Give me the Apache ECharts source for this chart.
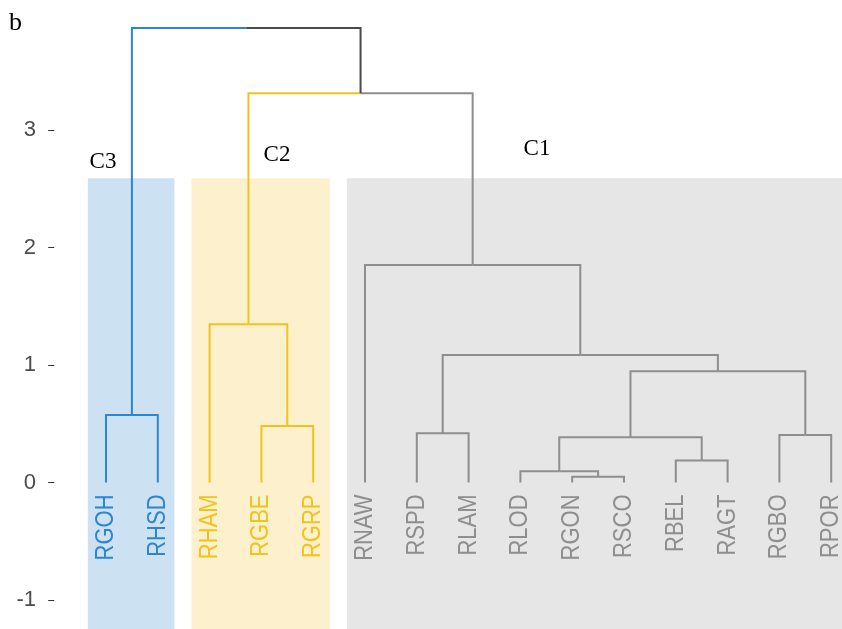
<!DOCTYPE html>
<html><head><meta charset="utf-8">
<script src="https://cdn.jsdelivr.net/npm/echarts@6/dist/echarts.min.js"></script>
<style>html,body{margin:0;padding:0;background:#fff}#c{width:842px;height:629px}</style>
</head><body><div id="c"></div>
<script>
// ---- data ----
const leaves = ['RGOH','RHSD','RHAM','RGBE','RGRP','RNAW','RSPD','RLAM','RLOD','RGON','RSCO','RBEL','RAGT','RGBO','RPOR'];
const leafCluster = ['C3','C3','C2','C2','C2','C1','C1','C1','C1','C1','C1','C1','C1','C1','C1'];
// hclust-style merges: negative = leaf (1-based), positive = earlier merge (1-based)
const mergeLeft   = [-10, -9, -12, 2, -14, -7, -4, -1, 4, 6, -3, -6, 11, 8];
const mergeRight  = [-11,  1, -13, 3, -15, -8, -5, -2, 5, 9,  7, 10, 12, 13];
const mergeHeight = [0.049, 0.095, 0.186, 0.385, 0.404, 0.418, 0.481, 0.574, 0.946, 1.085, 1.346, 1.851, 3.312, 3.868];
const yTicks = [-1, 0, 1, 2, 3];
const clusterNames = ['C1', 'C2', 'C3'];
const rectTop = 2.59;

// ---- styles ----
const lineColor = {C1:'#8e8e8e', C2:'#f2c31c', C3:'#2d86d0', none:'#4a4a4a'};
const rectColor = {C1:'#e6e6e6', C2:'#fcf1cc', C3:'#cce2f2'};
const yMin = -1.247, yMax = 4.106;

// ---- build tree geometry from merges ----
const nodes = [];
function nodeOf(ref){
  if (ref < 0) return {x: -ref, y: 0, cl: leafCluster[-ref-1]};
  return nodes[ref-1];
}
const segData = [], segColor = [];
for (let k = 0; k < mergeHeight.length; k++) {
  const l = nodeOf(mergeLeft[k]), r = nodeOf(mergeRight[k]);
  const h = mergeHeight[k];
  const x = (l.x + r.x) / 2;
  const cl = (l.cl && l.cl === r.cl) ? l.cl : null;
  nodes.push({x, y: h, cl});
  [l, r].forEach(c => {
    segData.push([x, h, c.x, c.y]);
    segColor.push(lineColor[c.cl || 'none']);
  });
}
// cluster rectangles from leaf ranges
const rectData = [], rectCol = [];
clusterNames.forEach(cn => {
  const idx = leafCluster.map((c,i)=>c===cn?i+1:null).filter(v=>v!==null);
  rectData.push([Math.min(...idx) - 0.35, Math.max(...idx) + 0.32, rectTop, yMin]);
  rectCol.push(rectColor[cn]);
});
const labelData = leaves.map((n,i)=>[i+1, 0]);

const chart = echarts.init(document.getElementById('c'), null, {renderer:'canvas'});
chart.setOption({
  animation: false,
  backgroundColor: '#fff',
  grid: {left: 49, right: 0, top: 0, bottom: 0, containLabel: false, outerBoundsMode: 'none'},
  xAxis: {type: 'value', min: -0.1004, max: 15.2085, show: false},
  yAxis: {
    type: 'value', min: yMin, max: yMax,
    splitLine: {show: false},
    axisLine: {show: false},
    axisTick: {show: true, length: 6, lineStyle: {color: '#333', width: 1}, customValues: yTicks},
    axisLabel: {color: '#4d4d4d', fontSize: 22, margin: 13, fontFamily: 'Liberation Sans, Arial, sans-serif', customValues: yTicks}
  },
  series: [
    {
      type: 'custom', z: 1, clip: true,
      data: rectData,
      renderItem: (params, api) => {
        const p1 = api.coord([api.value(0), api.value(2)]);
        const p2 = api.coord([api.value(1), api.value(3)]);
        return {type: 'rect', shape: {x: p1[0], y: p1[1], width: p2[0]-p1[0], height: p2[1]-p1[1]},
          style: {fill: rectCol[params.dataIndex]}};
      }
    },
    {
      type: 'custom', z: 3,
      data: segData,
      renderItem: (params, api) => {
        const a = api.coord([api.value(0), api.value(1)]);
        const b = api.coord([api.value(2), api.value(1)]);
        const c = api.coord([api.value(2), api.value(3)]);
        return {type: 'polyline', shape: {points: [a, b, c]},
          style: {stroke: segColor[params.dataIndex], lineWidth: 2, fill: null}};
      }
    },
    {
      type: 'custom', z: 4,
      data: labelData,
      renderItem: (params, api) => {
        const p = api.coord([api.value(0), api.value(1)]);
        const i = params.dataIndex;
        return {type: 'text', x: p[0], y: p[1] + 12, rotation: Math.PI/2, scaleX: 1, scaleY: 1.15,
          style: {text: leaves[i], fill: lineColor[leafCluster[i]], align: 'right', verticalAlign: 'middle',
            font: '22px "Liberation Sans", Arial, sans-serif'}};
      }
    }
  ],
  graphic: [
    {type: 'text', left: 9, top: 10, style: {text: 'b', fill: '#000', font: '26px "Liberation Serif", "Times New Roman", serif'}},
    {type: 'text', x: 103, y: 173, style: {text: 'C3', fill: '#000', align: 'center', verticalAlign: 'bottom', font: '23px "Liberation Serif", "Times New Roman", serif'}},
    {type: 'text', x: 277, y: 166, style: {text: 'C2', fill: '#000', align: 'center', verticalAlign: 'bottom', font: '23px "Liberation Serif", "Times New Roman", serif'}},
    {type: 'text', x: 537, y: 160, style: {text: 'C1', fill: '#000', align: 'center', verticalAlign: 'bottom', font: '23px "Liberation Serif", "Times New Roman", serif'}}
  ]
});
</script>
</body></html>
